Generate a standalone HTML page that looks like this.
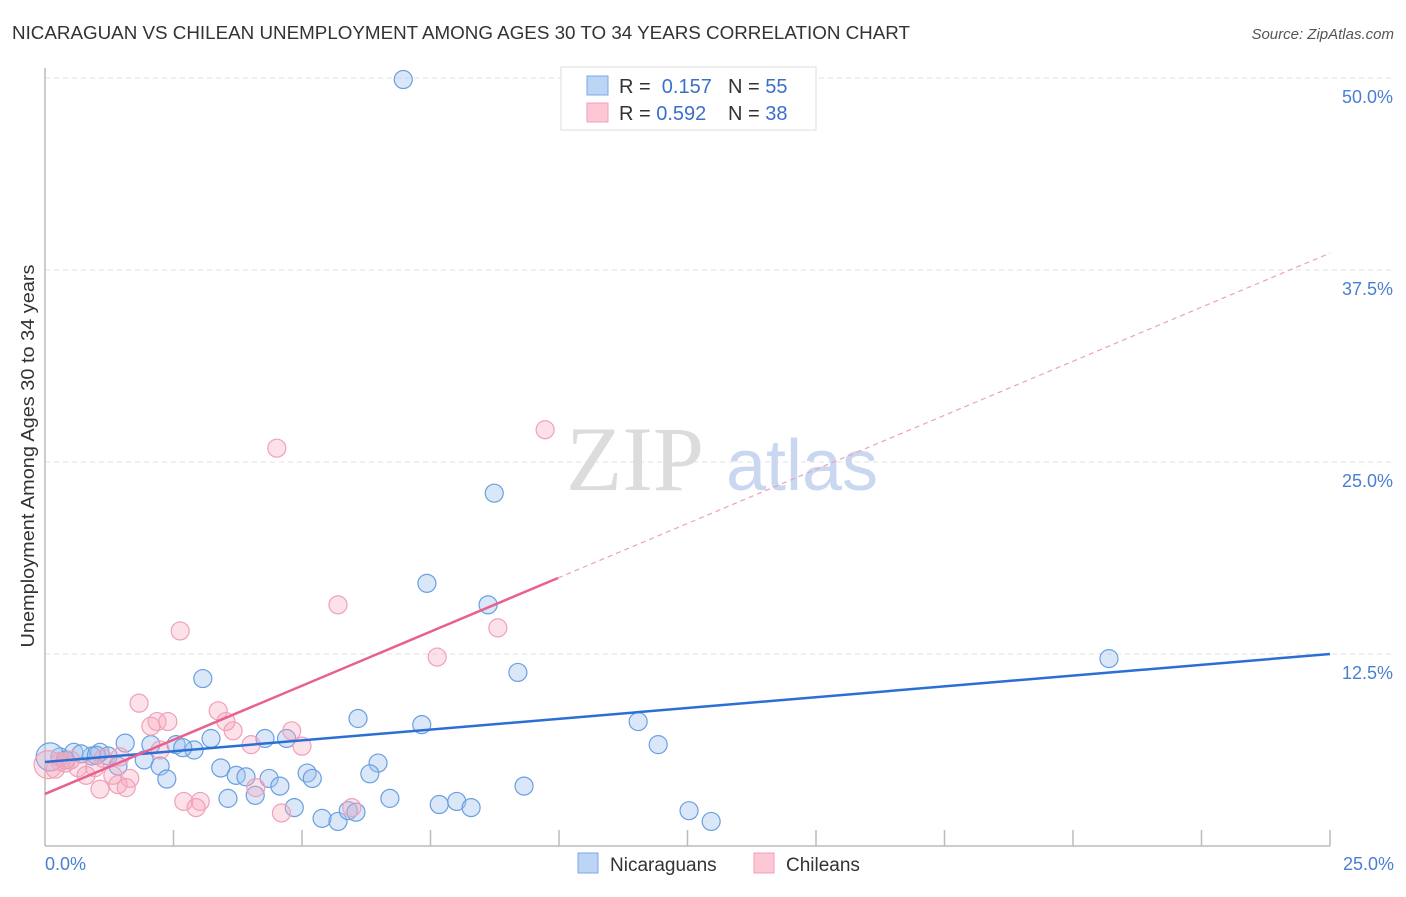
<!DOCTYPE html>
<html><head><meta charset="utf-8"><style>
body{margin:0;background:#fff;font-family:"Liberation Sans",sans-serif;}
svg text{font-family:"Liberation Sans",sans-serif;}
</style></head><body>
<svg width="1406" height="892" viewBox="0 0 1406 892">
<text x="12" y="39" font-size="18" fill="#333" textLength="898" lengthAdjust="spacingAndGlyphs">NICARAGUAN VS CHILEAN UNEMPLOYMENT AMONG AGES 30 TO 34 YEARS CORRELATION CHART</text>
<text x="1394" y="39" font-size="15" fill="#555" font-style="italic" text-anchor="end">Source: ZipAtlas.com</text>
<g id="grid"></g>
<g>
<text x="635" y="490" font-size="92" fill="#dcdcdc" text-anchor="middle" font-family="Liberation Serif,serif" style="font-family:'Liberation Serif',serif">ZIP</text>
<text x="802" y="490" font-size="72" fill="#c9d8f0" text-anchor="middle">atlas</text>
</g>
<line x1="45" y1="68" x2="45" y2="846" stroke="#bbb" stroke-width="1.5"/>
<line x1="45" y1="846" x2="1330" y2="846" stroke="#bbb" stroke-width="1.5"/>
<g id="ticks"></g>
<g id="pts"></g>
<g id="lines"></g>
<text x="34" y="456" font-size="18" fill="#333" text-anchor="middle" textLength="383" lengthAdjust="spacingAndGlyphs" transform="rotate(-90 34 456)">Unemployment Among Ages 30 to 34 years</text>
<text x="45" y="870" font-size="18" fill="#4a7fd0">0.0%</text>
<text x="1394" y="870" font-size="18" fill="#4a7fd0" text-anchor="end">25.0%</text>
<g>
<rect x="561" y="67" width="255" height="63" fill="#fff" stroke="#ddd"/>
<rect x="587" y="76" width="21" height="19" fill="#bcd5f5" stroke="#7aa8e6"/>
<rect x="587" y="103" width="21" height="19" fill="#fcc8d6" stroke="#f0a0b8"/>
<text x="619" y="93" font-size="20" fill="#333">R = <tspan fill="#3a70cc">&#160;0.157</tspan><tspan x="728">N = </tspan><tspan fill="#3a70cc">55</tspan></text>
<text x="619" y="120" font-size="20" fill="#333">R = <tspan fill="#3a70cc">0.592</tspan><tspan x="728">N = </tspan><tspan fill="#3a70cc">38</tspan></text>
</g>
<g>
<rect x="578" y="853" width="20" height="20" fill="#bcd5f5" stroke="#7aa8e6"/>
<text x="610" y="871" font-size="19" fill="#333">Nicaraguans</text>
<rect x="754" y="853" width="20" height="20" fill="#fcc8d6" stroke="#f0a0b8"/>
<text x="786" y="871" font-size="19" fill="#333">Chileans</text>
</g>
</svg>
<script>
const yTicks=[12.5,25,37.5,50];
const yTickLabels=["12.5%","25.0%","37.5%","50.0%"];
const xTicks=[2.5,5,7.5,10,12.5,15,17.5,20,22.5,25];
const blueX=[6.97,8.74,7.43,8.62,20.7,9.2,3.07,6.09,7.33,11.54,11.93,1.56,2.06,2.55,2.9,3.23,4.28,4.7,2.68,0.56,1.07,1.23,0.29,0.91,1.93,2.24,2.37,3.42,3.72,3.91,4.36,4.57,5.1,5.2,6.48,6.32,3.56,4.09,4.85,5.39,5.7,5.9,6.05,6.71,7.67,8.01,8.29,9.32,12.53,12.96,1.42,0.1,0.4,0.7,1.0];
const blueY=[49.9,22.97,17.1,15.7,12.2,11.3,10.9,8.3,7.9,8.1,6.6,6.7,6.6,6.6,6.25,7.0,7.0,7.0,6.4,6.1,6.1,5.86,5.8,5.86,5.6,5.2,4.36,5.08,4.6,4.5,4.4,3.9,4.75,4.4,5.4,4.7,3.1,3.3,2.5,1.8,1.6,2.3,2.2,3.1,2.7,2.9,2.5,3.9,2.3,1.6,5.2,5.8,5.6,6.0,5.9];
const pinkX=[9.73,4.51,5.7,8.81,2.63,7.63,1.83,3.37,2.18,2.39,2.06,3.52,3.66,4.8,4.01,5.0,2.24,1.46,1.13,0.29,0.64,0.97,0.8,1.32,1.65,1.42,1.58,1.07,2.7,3.02,2.94,4.1,4.6,5.97,0.06,0.4,0.2,0.5];
const pinkY=[27.1,25.9,15.7,14.2,14.0,12.3,9.3,8.8,8.1,8.1,7.8,8.1,7.5,7.5,6.6,6.5,6.25,5.8,5.7,5.5,5.1,5.1,4.6,4.6,4.4,4.0,3.8,3.7,2.9,2.9,2.5,3.8,2.15,2.5,5.3,5.4,5.0,5.6];
const blueTrend=[5.47,12.5];
const pinkTrend=[3.39,17.45,38.6];
const pinkSolidEndX=9.98;
const NS="http://www.w3.org/2000/svg";
const xs=v=>45+v/25*1285;
const ys=v=>846-v*15.36;
function mk(tag,attrs,parent){const e=document.createElementNS(NS,tag);for(const k in attrs)e.setAttribute(k,attrs[k]);document.getElementById(parent).appendChild(e);return e;}
yTicks.forEach((t,i)=>{
 const l=mk('line',{x1:45,x2:1394,y1:ys(t),y2:ys(t),stroke:'#e2e2e2','stroke-dasharray':'5,4'},'grid');
 
 
 const tx=mk('text',{x:1393,y:ys(t)+25,'font-size':18,fill:'#4a7fd0','text-anchor':'end'},'grid');
 tx.textContent=yTickLabels[i];
 
 
});
xTicks.forEach(t=>{
 const l=mk('line',{x1:xs(t),x2:xs(t),y1:830,y2:846,stroke:'#bbb','stroke-width':1.5},'ticks');
 
 
});
blueX.forEach((x,i)=>{
 const c=mk('circle',{cx:xs(x),cy:ys(blueY[i]),r:(x<0.15?14:9),fill:'rgba(160,196,240,0.4)',stroke:'#6a9fe0','stroke-width':1.2},'pts');
 
 
});
pinkX.forEach((x,i)=>{
 const c=mk('circle',{cx:xs(x),cy:ys(pinkY[i]),r:(x<0.1?14:9),fill:'rgba(245,170,190,0.35)',stroke:'#f0a0b8','stroke-width':1.2},'pts');
 
 
});
let l=mk('line',{x1:xs(0),y1:ys(blueTrend[0]),x2:xs(25),y2:ys(blueTrend[1]),stroke:'#2a6fd6','stroke-width':2.5},'lines');


l=mk('line',{x1:xs(0),y1:ys(pinkTrend[0]),x2:xs(pinkSolidEndX),y2:ys(pinkTrend[1]),stroke:'#e86090','stroke-width':2.5},'lines');


l=mk('line',{x1:xs(pinkSolidEndX),y1:ys(pinkTrend[1]),x2:xs(25),y2:ys(pinkTrend[2]),stroke:'#eea0b8','stroke-width':1.2,'stroke-dasharray':'5,4'},'lines');


</script>
</body></html>
